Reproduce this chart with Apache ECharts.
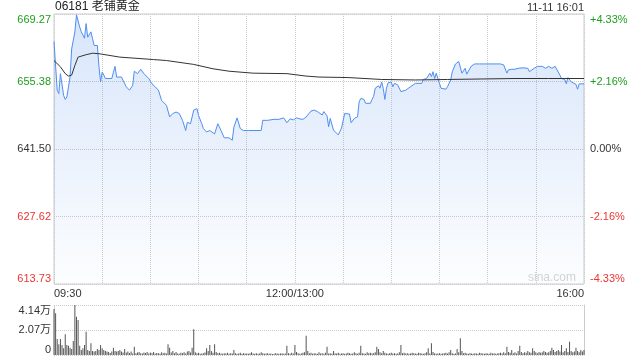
<!DOCTYPE html>
<html><head><meta charset="utf-8">
<script src="https://cdn.jsdelivr.net/npm/echarts@6/dist/echarts.min.js"></script>
<style>html,body{margin:0;padding:0;background:#fff}#c{width:640px;height:360px}</style>
</head><body><div id="c"></div>
<script>
const titleText = '06181 老铺黄金';
const stampText = '11-11 16:01';
const prevClose = 641.50;
const yStep = 13.885;
const leftLabels = ['613.73', '627.62', '641.50', '655.38', '669.27'];
const rightLabels = ['-4.33%', '-2.16%', '0.00%', '+2.16%', '+4.33%'];
const labelStyles = ['r', 'r', 'k', 'g', 'g'];
const xTickMin = [0, 150, 330];
const xTickText = ['09:30', '12:00/13:00', '16:00'];
const volLabels = ['0', '2.07万', '4.14万'];

const priceMin = [0,2,3,4,6,7,8,10,11,13,14,16,17,19,20,21,23,24,25,27,28,29,30,31,32,36,37,38,39,42,45,47,48,49,50,52,53,54,56,57,59,61,63,65,67,70,72,74,76,78,80,82,83,85,87,89,90,92,93,95,97,100,102,104,106,109,111,112,114,116,118,119,121,129,130,133,137,140,143,144,145,147,149,151,153,155,157,160,162,164,165,167,168,170,171,172,174,175,177,178,179,181,182,184,185,187,189,190,191,193,194,197,198,199,200,202,203,204,205,206,207,208,210,211,212,214,216,219,222,225,229,230,232,234,235,236,237,238,240,241,244,245,247,248,250,252,253,254,256,257,259,260,262,263,265,266,268,278,279,280,282,283,285,287,289,292,295,296,297,299,301,304,306,308,310,312,313,315,316,318,319,320,322,323,325,326,327,330];
const priceVal = [663.6,653.6,652.9,657.0,652.5,651.7,652.2,656.3,662.1,665.6,669.1,666.6,665.6,664.3,667.3,664.5,665.6,664.2,662.8,662.8,658.4,655.3,657.3,656.7,656.0,656.0,657.3,658.5,656.3,656.3,654.3,653.6,653.6,654.6,657.5,657.0,656.7,657.9,657.0,656.7,656.0,654.9,654.3,653.6,651.5,650.5,648.1,648.8,649.1,648.8,647.4,645.3,647.0,646.7,649.5,649.8,648.4,646.7,645.7,645.0,645.3,644.6,646.7,645.3,643.8,643.8,643.3,646.0,647.9,645.7,645.3,644.9,645.3,645.3,647.4,647.4,647.6,647.6,647.9,648.1,646.9,647.7,647.5,647.9,647.7,647.6,648.1,649.3,649.5,649.2,649.3,648.5,649.2,648.3,646.1,647.8,645.4,645.1,644.4,645.1,645.8,648.8,648.5,648.7,646.9,647.8,648.1,651.2,651.9,651.7,650.9,650.9,651.7,652.3,654.0,654.5,654.0,655.3,654.0,651.7,654.0,655.1,655.3,654.3,655.0,654.7,653.3,653.6,654.3,655.0,655.0,655.8,656.0,657.1,656.4,657.4,656.0,657.1,655.0,654.0,653.8,654.3,655.7,657.4,659.0,659.5,659.8,657.1,658.1,656.9,658.1,658.6,659.0,658.6,659.0,658.8,659.0,659.0,658.6,658.8,657.1,657.8,657.9,657.9,658.1,658.2,658.1,657.4,657.8,658.1,658.5,658.5,658.1,658.5,658.1,658.5,658.1,656.7,656.0,655.8,654.9,656.2,655.3,655.0,654.8,653.8,654.9,654.9];

const avgMin = [0,4,7,9,11,13,15,20,24,28,41,62,70,87,99,109,124,145,157,165,183,204,225,245,266,287,308,330];
const avgVal = [659.7,658.4,657.0,656.5,656.7,658.7,660.4,660.9,661.2,661.1,660.4,659.9,659.7,658.9,658.0,657.5,657.1,657.0,656.5,656.3,656.2,655.8,655.7,655.8,655.9,656.0,656.0,656.0];

const volume = [
38100,34500,13200,8800,13200,8300,5500,17100,8300,7700,
6100,5000,11600,41400,31700,29000,7700,4100,5500,8300,
19300,4100,3300,9700,3300,2800,3300,5000,4100,8300,
5500,4100,3300,2800,2500,1700,3000,6100,3300,2800,
3300,4100,2800,2000,5000,2000,2800,1700,2800,1200,
6900,1500,2000,2500,1500,1200,2000,1700,2500,1300,
2000,1500,2500,1200,1700,1500,1000,2200,1500,1800,
1200,8800,6100,2000,3300,1500,2500,1200,1000,1800,
1500,2200,1200,2800,3300,2000,6100,21300,2200,1500,
1800,1000,1200,1500,2000,5500,3300,8300,3300,1800,
8800,2500,1500,1800,1200,1000,1500,1200,1800,1000,
1500,1200,4100,1500,1000,1200,1800,1000,1500,1200,
1300,1000,1500,2200,1200,1000,1500,1000,1200,2200,
1500,1000,1200,1500,1000,1200,800,1000,1500,1200,
1000,1200,1500,1000,1200,7700,1500,1000,1800,1200,
8300,2500,1500,1000,1200,1800,2200,16000,3300,1500,
1800,1000,1500,1200,1000,2200,1200,1500,1000,1800,
6900,1200,1500,1000,3300,1500,1200,1800,1000,1200,
1500,1000,1200,1800,1500,1000,1200,2200,1500,1000,
1800,7700,1500,1200,1000,2200,1500,1800,1200,1500,
2200,6900,5000,2200,1500,3300,1800,1200,1000,1500,
1800,1200,1500,1000,1200,2200,8300,1500,1800,1200,
1500,1000,1200,1800,1500,1200,1000,1800,1500,1200,
1000,1500,2200,5500,1200,9700,2500,1500,1000,1200,
1500,1000,1200,1500,1800,1200,2200,4100,1500,1000,
1200,5000,2200,13800,3300,1500,1800,1200,1000,1500,
1200,1000,1500,1200,1000,1800,1500,1200,1000,1500,
1200,1000,1800,1200,1500,1000,1200,1500,1800,1200,
2200,1500,6900,2500,1800,4100,1500,2200,1200,3300,
7700,2500,1500,2200,1800,3300,2200,1800,5500,3300,
2200,1500,2500,1800,2200,3300,2500,1800,2200,3300,
6100,4100,2500,3300,4100,2800,8300,2200,3300,5500,
2500,11000,3300,2200,2800,6100,3300,2200,4100,2800,
4100];

const FONT = 'Arial, "Liberation Sans", "Noto Sans CJK SC", sans-serif';
const GREEN = '#1f9e1f', RED = '#ee3333', DARK = '#333';
const rich = {
  g: {color: GREEN, fontSize: 11, fontFamily: FONT},
  r: {color: RED, fontSize: 11, fontFamily: FONT},
  k: {color: DARK, fontSize: 11, fontFamily: FONT}
};
const toUnit = p => (p - prevClose) / yStep;
const idx = v => Math.round(v) + 2;

const chart = echarts.init(document.getElementById('c'), null, {renderer: 'canvas'});
chart.setOption({
  animation: false,
  textStyle: {fontFamily: FONT},
  grid: [
    {left: 54, right: 56, top: 14, bottom: 76, show: true, borderColor: '#ccc', borderWidth: 1, backgroundColor: 'transparent'},
    {left: 54, right: 56, top: 305, bottom: 5}
  ],
  xAxis: [
    {gridIndex: 0, type: 'value', min: 0, max: 330, interval: 30,
     axisLine: {show: false}, axisTick: {show: false},
     splitLine: {show: true, lineStyle: {color: '#ccc', type: 'dotted'}},
     axisLabel: {color: DARK, fontSize: 11, fontFamily: FONT, margin: 4, showMinLabel: true, showMaxLabel: true,
       alignMinLabel: 'left', alignMaxLabel: 'right',
       formatter: v => { const i = xTickMin.indexOf(Math.round(v)); return i >= 0 ? xTickText[i] : ''; }}},
    {gridIndex: 1, type: 'value', min: 0, max: 330, interval: 30,
     axisLine: {show: false}, axisTick: {show: false}, splitLine: {show: false}, axisLabel: {show: false}}
  ],
  yAxis: [
    {gridIndex: 0, type: 'value', min: -2, max: 2, interval: 1, position: 'left',
     axisLine: {show: false}, axisTick: {show: false},
     splitLine: {show: true, lineStyle: {color: '#ccc', type: 'dotted'}},
     axisLabel: {margin: 3, showMinLabel: true, showMaxLabel: true,
       verticalAlignMinLabel: 'bottom', verticalAlignMaxLabel: 'top', rich: rich,
       formatter: v => '{' + labelStyles[idx(v)] + '|' + leftLabels[idx(v)] + '}'}},
    {gridIndex: 0, type: 'value', min: -2, max: 2, interval: 1, position: 'right',
     axisLine: {show: false}, axisTick: {show: false}, splitLine: {show: false},
     axisLabel: {margin: 6, showMinLabel: true, showMaxLabel: true,
       verticalAlignMinLabel: 'bottom', verticalAlignMaxLabel: 'top', rich: rich,
       formatter: v => '{' + labelStyles[idx(v)] + '|' + rightLabels[idx(v)] + '}'}},
    {gridIndex: 1, type: 'value', min: 0, max: 41400, interval: 20700, position: 'left',
     axisLine: {show: true, lineStyle: {color: '#ccc', type: 'dotted'}}, axisTick: {show: false},
     splitLine: {show: true, lineStyle: {color: '#ccc', type: 'dotted'}},
     axisLabel: {margin: 3, color: DARK, fontSize: 11, fontFamily: FONT, showMinLabel: true, showMaxLabel: true,
       verticalAlignMinLabel: 'bottom', verticalAlignMaxLabel: 'top',
       formatter: v => volLabels[Math.round(v / 20700)]}},
    {gridIndex: 1, type: 'value', min: 0, max: 41400, interval: 20700, position: 'right',
     axisLine: {show: true, lineStyle: {color: '#ccc'}}, axisTick: {show: false},
     splitLine: {show: false}, axisLabel: {show: false}}
  ],
  series: [
    {type: 'line', xAxisIndex: 0, yAxisIndex: 0, showSymbol: false, symbol: 'none',
     data: priceMin.map((m, i) => [m, toUnit(priceVal[i])]),
     lineStyle: {color: '#4f8ef0', width: 1},
     areaStyle: {origin: 'start', color: new echarts.graphic.LinearGradient(0, 0, 0, 1, [
       {offset: 0, color: 'rgba(80,140,235,0.32)'}, {offset: 1, color: 'rgba(80,140,235,0.02)'}])}},
    {type: 'line', xAxisIndex: 0, yAxisIndex: 0, showSymbol: false, symbol: 'none',
     data: avgMin.map((m, i) => [m, toUnit(avgVal[i])]),
     lineStyle: {color: '#333', width: 1}},
    {type: 'bar', xAxisIndex: 1, yAxisIndex: 2, barWidth: 1,
     data: volume.map((v, i) => [i, v]),
     itemStyle: {color: '#555'}}
  ],
  graphic: [
    {type: 'text', left: 55, top: 1, style: {text: titleText, fill: '#222', font: '12px ' + FONT}},
    {type: 'text', right: 56, top: 2, style: {text: stampText, fill: '#333', font: '11px ' + FONT}},
    {type: 'text', right: 64, top: 272, style: {text: 'sina.com', fill: '#d4d4d4', font: '12px ' + FONT}}
  ]
});
</script></body></html>
